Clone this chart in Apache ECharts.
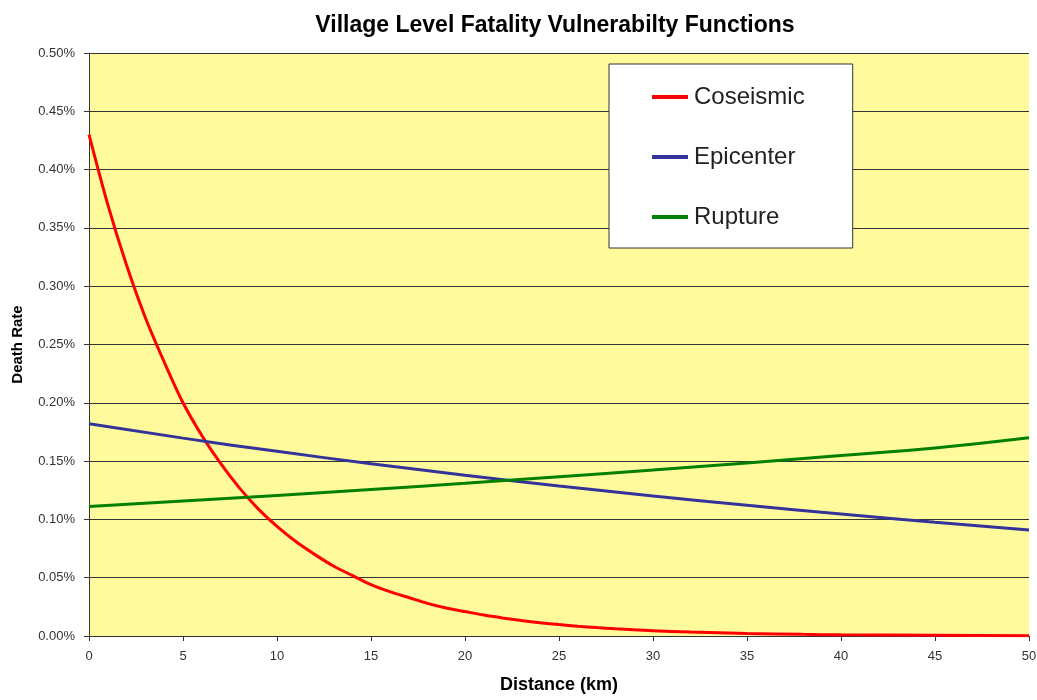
<!DOCTYPE html>
<html>
<head>
<meta charset="utf-8">
<script src="https://cdn.jsdelivr.net/npm/echarts@6/dist/echarts.min.js"></script>
<style>
  html, body { margin: 0; padding: 0; background: #fff; }
  #main { width: 1037px; height: 700px; }
</style>
</head>
<body>
<div id="main"></div>
<script>
// distance (km) and death rate (%)
var coseismicX = [0, 1, 2, 3, 4, 5, 6, 7, 8, 9, 10, 11, 12, 13, 14, 15, 16, 17, 18, 19, 20,
  21, 22, 23, 24, 25, 26, 27, 28, 29, 30, 32, 35, 38, 40, 45, 50];
var coseismicY = [0.430, 0.370, 0.318, 0.273, 0.235, 0.200, 0.172, 0.148, 0.127, 0.109, 0.094,
  0.081, 0.070, 0.060, 0.052, 0.044, 0.038, 0.033, 0.028, 0.024, 0.021,
  0.018, 0.0155, 0.0133, 0.0114, 0.0098, 0.0084, 0.0072, 0.0062, 0.0053, 0.0046,
  0.0034, 0.0022, 0.0014, 0.001, 0.0006, 0.0003];

var stepX = [0, 5, 10, 15, 20, 25, 30, 35, 40, 45, 50];
var epicenterY = [0.182, 0.1697, 0.1584, 0.1478, 0.1379, 0.1287, 0.1201, 0.1121, 0.1046, 0.0976, 0.091];
var ruptureY = [0.111, 0.1157, 0.1206, 0.1257, 0.131, 0.1366, 0.1424, 0.1484, 0.1547, 0.1613, 0.170];

function pairs(xs, ys) {
  return xs.map(function (x, i) { return [x, ys[i]]; });
}

var chart = echarts.init(document.getElementById("main"));
var option = {
  backgroundColor: "#ffffff",
  animation: false,
  title: {
    text: "Village Level Fatality Vulnerabilty Functions",
    left: 550,
    textAlign: "center",
    top: 9,
    textStyle: { fontFamily: "Liberation Sans", fontWeight: "bold", fontSize: 23, color: "#000" }
  },
  legend: {
    orient: "vertical",
    left: 609,
    top: 64,
    padding: [21, 48, 19, 43],
    itemGap: 36,
    itemWidth: 36,
    itemHeight: 4,
    backgroundColor: "#ffffff",
    borderColor: "#333",
    borderWidth: 1,
    icon: "rect",
    textStyle: { fontFamily: "Liberation Sans", fontSize: 24, color: "#222", padding: [0, 0, 0, 1] },
    data: ["Coseismic", "Epicenter", "Rupture"]
  },
  grid: {
    left: 89,
    right: 8,
    top: 53,
    bottom: 64,
    containLabel: false,
    outerBoundsMode: "none",
    show: true,
    backgroundColor: "#fffb9c",
    borderWidth: 0
  },
  xAxis: {
    type: "value",
    min: 0,
    max: 50,
    interval: 5,
    name: "Distance (km)",
    nameLocation: "middle",
    nameGap: 40,
    nameTextStyle: { fontFamily: "Liberation Sans", fontWeight: "bold", fontSize: 18, color: "#000" },
    axisLine: { lineStyle: { color: "#333", width: 1 } },
    axisTick: { show: true, length: 5, lineStyle: { color: "#333" } },
    axisLabel: { margin: 14, fontFamily: "Liberation Sans", fontSize: 13, color: "#333" },
    splitLine: { show: false }
  },
  yAxis: {
    type: "value",
    min: 0,
    max: 0.5,
    interval: 0.05,
    name: "Death Rate",
    nameLocation: "middle",
    nameGap: 64,
    nameTextStyle: { fontFamily: "Liberation Sans", fontWeight: "bold", fontSize: 15, color: "#000" },
    axisLine: { show: true, lineStyle: { color: "#333", width: 1 } },
    axisTick: { show: true, length: 5, lineStyle: { color: "#333" } },
    axisLabel: {
      margin: 14,
      fontFamily: "Liberation Sans",
      fontSize: 13,
      color: "#333",
      formatter: function (v) { return v.toFixed(2) + "%"; }
    },
    splitLine: { show: true, lineStyle: { color: "#333", width: 1 } }
  },
  series: [
    {
      name: "Coseismic",
      type: "line",
      smooth: 0.3,
      showSymbol: false,
      data: pairs(coseismicX, coseismicY),
      lineStyle: { color: "#ff0000", width: 3 },
      itemStyle: { color: "#ff0000" }
    },
    {
      name: "Epicenter",
      type: "line",
      smooth: true,
      showSymbol: false,
      data: pairs(stepX, epicenterY),
      lineStyle: { color: "#333399", width: 3 },
      itemStyle: { color: "#333399" }
    },
    {
      name: "Rupture",
      type: "line",
      smooth: true,
      showSymbol: false,
      data: pairs(stepX, ruptureY),
      lineStyle: { color: "#008000", width: 3 },
      itemStyle: { color: "#008000" }
    }
  ]
};
chart.setOption(option);
</script>
</body>
</html>
